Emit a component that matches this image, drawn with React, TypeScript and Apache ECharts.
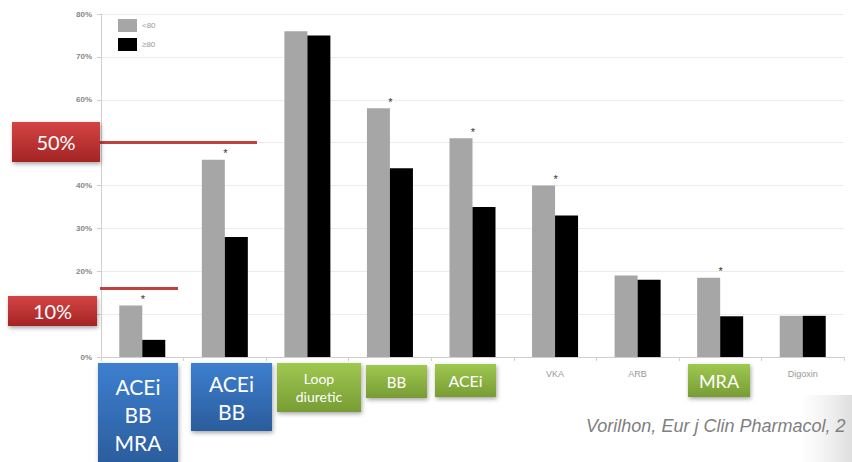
import React, { useEffect, useRef } from "react";
import * as echarts from "echarts";

const categories = ["ACEi+BB+MRA", "ACEi+BB", "Loop diuretic", "BB", "ACEi", "VKA", "ARB", "MRA", "Digoxin"];
const under80 = [12, 46, 76, 58, 51, 40, 19, 18.5, 9.6];
const over80 = [4, 28, 75, 44, 35, 33, 18, 9.5, 9.6];
const significant = [true, true, false, true, true, true, false, true, false];
const coveredLabels = [true, true, true, true, true, false, false, true, false];
const seriesNames = ["<80", "\u226580"];
const yTicks = { min: 0, max: 80, interval: 10 };
const footnote = "Vorilhon, Eur j Clin Pharmacol, 2";

const blueFill = new echarts.graphic.LinearGradient(0, 0, 0, 1, [
  { offset: 0, color: "#3d7fcf" },
  { offset: 1, color: "#2b5c9c" },
]);
const greenFill = new echarts.graphic.LinearGradient(0, 0, 0, 1, [
  { offset: 0, color: "#9fc850" },
  { offset: 1, color: "#789c34" },
]);
const redFill = new echarts.graphic.LinearGradient(0, 0, 0, 1, [
  { offset: 0, color: "#d44444" },
  { offset: 1, color: "#a42424" },
]);
const shadow = { shadowBlur: 4, shadowOffsetY: 2, shadowOffsetX: 1, shadowColor: "rgba(0,0,0,0.35)" };

function box(x: number, y: number, w: number, h: number, fill: any, text: string, fontSize: number, lineHeight: number) {
  return {
    type: "group",
    z: 100,
    children: [
      { type: "rect", shape: { x, y, width: w, height: h }, style: { fill, ...shadow }, z: 100 },
      {
        type: "text",
        x: x + w / 2,
        y: y + h / 2,
        z: 101,
        style: {
          text,
          fill: "#ffffff",
          font: `${fontSize}px Lato, "Open Sans", sans-serif`,
          align: "center",
          verticalAlign: "middle",
          lineHeight,
        },
      },
    ],
  };
}

export default function App() {
  const ref = useRef<HTMLDivElement>(null);
  useEffect(() => {
    document.body.style.margin = "0";
    const chart = echarts.init(ref.current!, null, { renderer: "svg" });
    chart.setOption({
      animation: false,
      backgroundColor: "#ffffff",
      grid: { left: 101, right: 8, top: 14, bottom: 105 },
      legend: {
        orient: "vertical",
        left: 113,
        top: 14,
        itemWidth: 19,
        itemHeight: 13,
        itemGap: 6,
        icon: "rect",
        textStyle: { fontSize: 8, color: "#999" },
        data: seriesNames,
      },
      xAxis: {
        type: "category",
        data: categories,
        axisLine: { lineStyle: { color: "#cfcfcf" } },
        axisTick: { show: true, length: 4, lineStyle: { color: "#cfcfcf" } },
        axisLabel: {
          fontSize: 9,
          color: "#999",
          margin: 12,
          formatter: (v: string) => (coveredLabels[categories.indexOf(v)] ? "" : v),
        },
      },
      yAxis: {
        type: "value",
        min: yTicks.min,
        max: yTicks.max,
        interval: yTicks.interval,
        axisLine: { show: true, lineStyle: { color: "#cfcfcf" } },
        axisTick: { show: true, length: 4, lineStyle: { color: "#cfcfcf" } },
        axisLabel: { fontSize: 8, color: "#888", fontWeight: "bold", margin: 9, formatter: "{value}%" },
        splitLine: { lineStyle: { color: "#ececec" } },
      },
      series: [
        {
          name: seriesNames[0],
          type: "bar",
          data: under80,
          barWidth: 23,
          barGap: "0%",
          itemStyle: { color: "#a6a6a6" },
          label: {
            show: true,
            position: "top",
            distance: 1,
            offset: [12, 0],
            fontSize: 11,
            color: "#333",
            formatter: (p: any) => (significant[p.dataIndex] ? "*" : ""),
          },
        },
        {
          name: seriesNames[1],
          type: "bar",
          data: over80,
          barWidth: 23,
          itemStyle: { color: "#000000" },
        },
      ],
      graphic: [
        box(98, 363, 80, 102, blueFill, "ACEi\nBB\nMRA", 21, 28),
        box(191, 363, 81, 68, blueFill, "ACEi\nBB", 21, 28),
        box(277, 363, 84, 49, greenFill, "Loop\ndiuretic", 14, 18),
        box(366, 365, 61, 33, greenFill, "BB", 15, 18),
        box(435, 364, 61, 33, greenFill, "ACEi", 16, 18),
        box(688, 364, 62, 33, greenFill, "MRA", 18, 18),
        { type: "line", z: 90, shape: { x1: 100, y1: 142.5, x2: 257, y2: 142.5 }, style: { stroke: "#c0403d", lineWidth: 3 } },
        { type: "line", z: 90, shape: { x1: 100, y1: 288.5, x2: 178, y2: 288.5 }, style: { stroke: "#c0403d", lineWidth: 3 } },
        box(12, 122, 88, 40, redFill, "50%", 20, 22),
        box(8, 296, 89, 30, redFill, "10%", 20, 22),
        {
          type: "rect",
          z: 1,
          shape: { x: 800, y: 395, width: 52, height: 67 },
          style: {
            fill: new echarts.graphic.LinearGradient(0, 0, 1, 0, [
              { offset: 0, color: "rgba(235,235,235,0)" },
              { offset: 1, color: "rgba(222,222,222,1)" },
            ]),
          },
        },
        {
          type: "text",
          z: 100,
          x: 586,
          y: 426,
          style: {
            text: footnote,
            fill: "#808080",
            font: 'italic 18px "Liberation Sans", Arial, sans-serif',
            verticalAlign: "middle",
          },
        },
      ],
    });
    return () => chart.dispose();
  }, []);
  return <div ref={ref} style={{ width: 852, height: 462 }} />;
}
